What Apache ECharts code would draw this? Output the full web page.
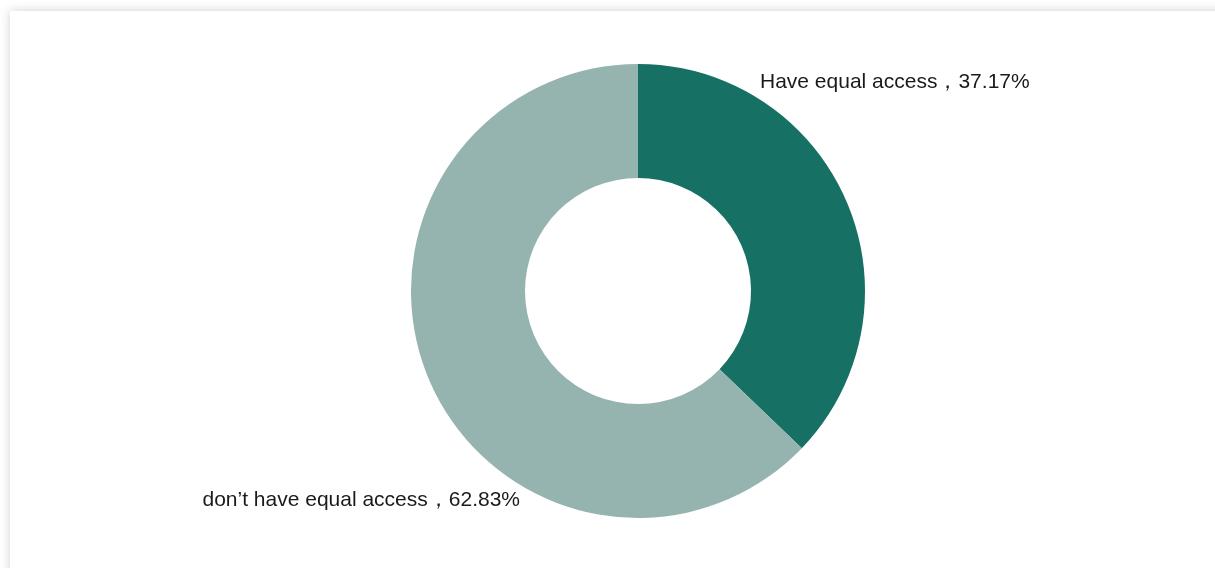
<!DOCTYPE html>
<html>
<head>
<meta charset="utf-8">
<script src="https://cdn.jsdelivr.net/npm/echarts@6/dist/echarts.min.js"></script>
<style>
html,body{margin:0;padding:0;background:#fff;overflow:hidden;}
#card{position:absolute;left:10px;top:11px;width:1230px;height:580px;background:#fff;box-shadow:0 0 10px rgba(0,0,0,0.18);}
#chart{position:absolute;left:0;top:0;width:1215px;height:568px;}
</style>
</head>
<body>
<div id="card"></div>
<div id="chart"></div>
<script>
const categories = ["Have equal access", "don\u2019t have equal access"];
const values = [37.17, 62.83];
const colors = ["#167064", "#96B4AF"];

const labelPos = [[760, 82, 'left'], [520, 500, 'right']];

const chart = echarts.init(document.getElementById('chart'));
chart.setOption({
  animation: false,
  series: [{
    type: 'pie',
    center: [638, 291],
    radius: [113, 227],
    startAngle: 90,
    clockwise: true,
    data: categories.map((c, i) => ({ name: c, value: values[i], itemStyle: { color: colors[i] } })),
    label: {
      show: true,
      position: 'outside',
      formatter: p => p.name + '\uff0c' + p.value.toFixed(2) + '%',
      color: '#1a1a1a',
      fontSize: 21,
      fontFamily: 'Liberation Sans, Arial, sans-serif'
    },
    labelLine: { show: false },
    labelLayout: function (params) {
      const p = labelPos[params.dataIndex];
      return { x: p[0], y: p[1], align: p[2], verticalAlign: 'middle' };
    },
    emphasis: { disabled: true }
  }]
});
</script>
</body>
</html>
